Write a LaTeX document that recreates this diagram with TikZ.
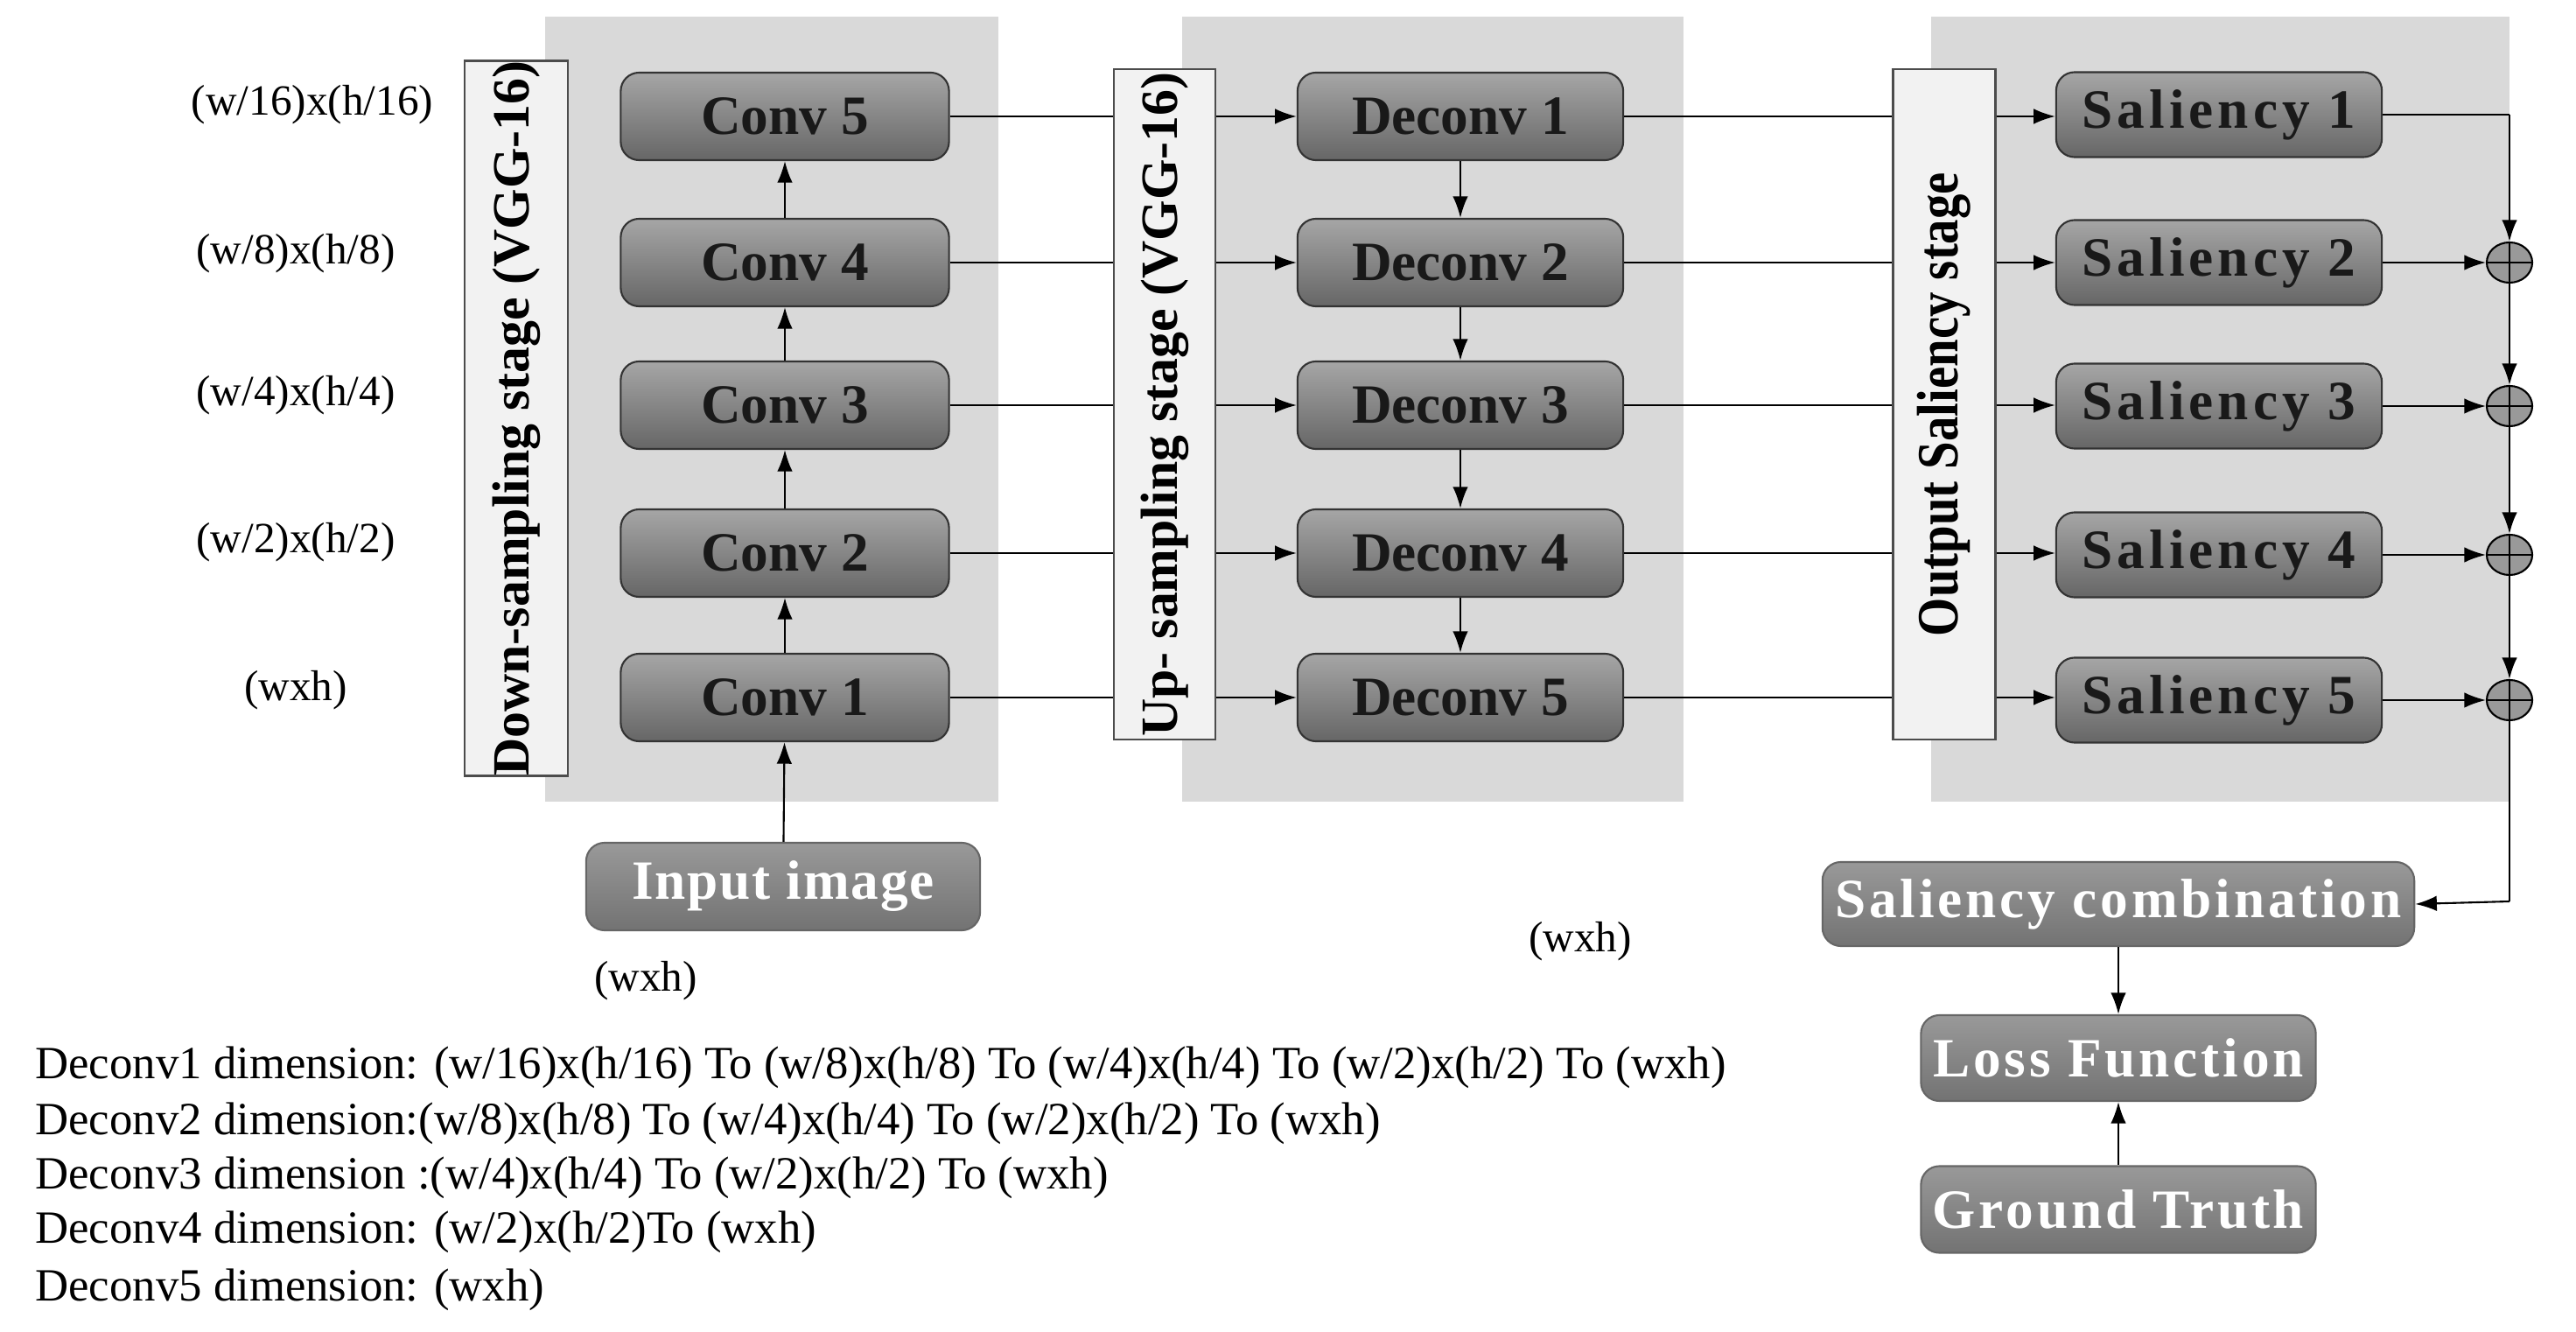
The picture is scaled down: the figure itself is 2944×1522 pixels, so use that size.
\documentclass[tikz,border=0pt]{standalone}
\usepackage{fontspec}
\setmainfont{Liberation Serif}
\usetikzlibrary{arrows.meta,shapes.geometric}
\begin{document}
\begin{tikzpicture}[x=0.01cm,y=-0.01cm,
  panel/.style={fill=black!15,draw=none},
  stage/.style={draw=black!70,fill=black!5,line width=0.6pt},
  blk/.style={draw=black!80,rounded corners=6pt,top color=black!35,bottom color=black!60,line width=0.6pt,
     font=\fontsize{18}{20}\selectfont\bfseries,text=black!90},
  wblk/.style={draw=black!60,rounded corners=6pt,top color=black!40,bottom color=black!55,line width=0.6pt,
     font=\fontsize{18}{20}\selectfont\bfseries,text=white},
  arr/.style={-{Latex[length=7pt,width=5pt]},line width=0.6pt},
  ln/.style={line width=0.6pt},
  lab/.style={font=\fontsize{14}{16}\selectfont},
  sum/.style={ellipse,draw=black,fill=black!45,minimum width=50pt*0.01/0.0352778,inner sep=0pt,line width=0.6pt}]
\useasboundingbox (0,0) rectangle (2944,1522);
% panels
\fill[black!15] (623,19) rectangle (1141,916);
\fill[black!15] (1351,19) rectangle (1924,916);
\fill[black!15] (2207,19) rectangle (2868,916);
% conv
\foreach \i/\y in {5/133,4/300,3/463,2/632,1/797}{
  \node[blk,minimum width=3.75cm,minimum height=1.0cm] (c\i) at (897,\y) {Conv \i};}
\foreach \i/\y in {1/133,2/300,3/463,4/632,5/797}{
  \node[blk,minimum width=3.72cm,minimum height=1.0cm] (d\i) at (1669,\y) {Deconv \i};}
\foreach \i/\y in {1/131,2/300,3/464,4/634,5/800}{
  \node[blk,minimum width=3.72cm,minimum height=0.97cm,font=\fontsize{18}{20}\selectfont\bfseries\addfontfeatures{LetterSpace=8}] (s\i) at (2536,\y) {Saliency \i};}
% horizontal connectors
\foreach \i/\j in {5/1,4/2,3/3,2/4,1/5}{ \draw[arr] (c\i.east) -- (d\j.west); }
\foreach \i in {1,...,5}{ \draw[arr] (d\i.east) -- (s\i.west|-d\i.east); }
% stage boxes
\node[stage,minimum width=1.18cm,minimum height=7.99cm,inner sep=0pt] (down) at (590,478)
  {\rotatebox{90}{\fontsize{17}{19}\selectfont\bfseries Down-sampling stage (VGG-16)}};
\node[stage,minimum width=1.16cm,minimum height=7.66cm,inner sep=0pt] (up) at (1331,462)
  {\rotatebox{90}{\fontsize{17}{19}\selectfont\bfseries Up- sampling stage (VGG-16)}};
\node[stage,minimum width=1.17cm,minimum height=7.66cm,inner sep=0pt] (out) at (2222,462)
  {\rotatebox{90}{\fontsize{19}{21}\selectfont\bfseries\addfontfeatures{FakeStretch=0.85} Output Saliency stage}};
% vertical chains
\draw[arr] (c1) -- (c2); \draw[arr] (c2) -- (c3); \draw[arr] (c3) -- (c4); \draw[arr] (c4) -- (c5);
\draw[arr] (d1) -- (d2); \draw[arr] (d2) -- (d3); \draw[arr] (d3) -- (d4); \draw[arr] (d4) -- (d5);
% sums
\foreach \i/\y in {2/300,3/464,4/634,5/800}{
  \node[ellipse,draw=black,fill=black!40,minimum width=0.52cm,minimum height=0.46cm,inner sep=0pt,line width=0.6pt] (p\i) at (2868,\y) {};
  \draw[ln] (p\i.north) -- (p\i.south) (p\i.west) -- (p\i.east);
  \draw[arr] (s\i.east) -- (p\i.west);}
\coordinate (r1) at (2868,131);
\coordinate (r6) at (2868,1030);
\draw[ln] (s1.east) -- (r1);
\draw[arr] (r1) -- (p2.north);
\draw[arr] (p2.south) -- (p3.north);
\draw[arr] (p3.south) -- (p4.north);
\draw[arr] (p4.south) -- (p5.north);
% bottom boxes
\node[wblk,minimum width=4.5cm,minimum height=1.0cm] (inp) at (895,1013) {\addfontfeatures{LetterSpace=3}Input image};
\node[wblk,minimum width=6.76cm,minimum height=0.96cm] (comb) at (2421,1033) {\addfontfeatures{LetterSpace=6}Saliency combination};
\node[wblk,minimum width=4.51cm,minimum height=0.98cm] (loss) at (2421,1209) {\addfontfeatures{LetterSpace=6}Loss Function};
\node[wblk,minimum width=4.51cm,minimum height=0.99cm] (gt) at (2421,1382) {\addfontfeatures{LetterSpace=6}Ground Truth};
\draw[ln] (p5.south) -- (r6);
\draw[arr] (r6) -- (comb.east);
\draw[arr] (comb) -- (loss);
\draw[arr] (gt) -- (loss);
\draw[arr] (inp) -- (c1);
% labels
\node[lab] (l1) at (357,120) {(w/16)x(h/16)};
\node[lab] (l2) at (338,290) {(w/8)x(h/8)};
\node[lab] (l3) at (338,452) {(w/4)x(h/4)};
\node[lab] (l4) at (338,620) {(w/2)x(h/2)};
\node[lab] (l5) at (338,789) {(wxh)};
\node[lab] (l6) at (738,1121) {(wxh)};
\node[lab] (l7) at (1806,1076) {(wxh)};
\node[lab,anchor=west,font=\fontsize{15}{17}\selectfont] (t1) at (28,1220) {Deconv1 dimension: (w/16)x(h/16) To (w/8)x(h/8) To (w/4)x(h/4) To (w/2)x(h/2) To (wxh)};
\node[lab,anchor=west,font=\fontsize{15}{17}\selectfont] (t2) at (28,1284) {Deconv2 dimension:(w/8)x(h/8) To (w/4)x(h/4) To (w/2)x(h/2) To (wxh)};
\node[lab,anchor=west,font=\fontsize{15}{17}\selectfont] (t3) at (28,1346) {Deconv3 dimension :(w/4)x(h/4) To (w/2)x(h/2) To (wxh)};
\node[lab,anchor=west,font=\fontsize{15}{17}\selectfont] (t4) at (28,1408) {Deconv4 dimension: (w/2)x(h/2)To (wxh)};
\node[lab,anchor=west,font=\fontsize{15}{17}\selectfont] (t5) at (28,1474) {Deconv5 dimension: (wxh)};
\end{tikzpicture}
\end{document}
